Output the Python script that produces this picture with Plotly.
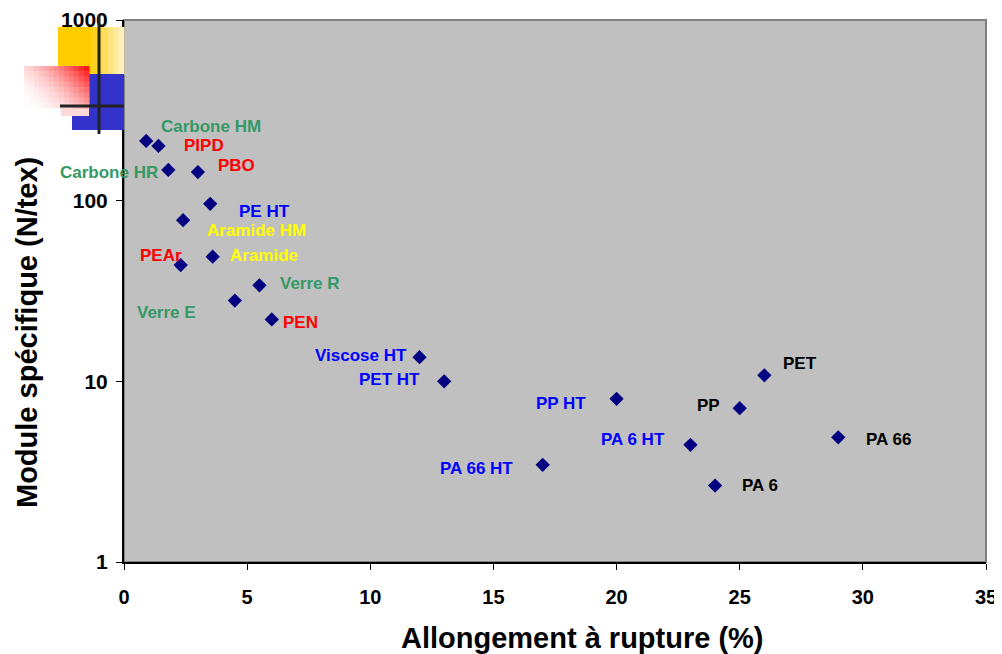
import math
import plotly.graph_objects as go

# ---- data ----
names = ["Carbone HM", "PIPD", "Carbone HR", "PBO", "PE HT", "Aramide HM", "Aramide",
         "PEAr", "Verre R", "Verre E", "PEN", "Viscose HT", "PET HT", "PP HT",
         "PA 66 HT", "PA 6 HT", "PET", "PP", "PA 66", "PA 6"]
allongement = [0.9, 1.4, 1.8, 3.0, 3.5, 2.4, 3.6, 2.3, 5.5, 4.5, 6.0, 12, 13, 20,
               17, 23, 26, 25, 29, 24]
module = [214, 201, 148, 144, 96, 78, 49, 44, 34, 28, 22, 13.6, 10, 8.0,
          3.45, 4.45, 10.8, 7.1, 4.9, 2.65]
label_colors = ["#339966", "#FF0000", "#339966", "#FF0000", "#0000FF", "#FFFF00", "#FFFF00",
                "#FF0000", "#339966", "#339966", "#FF0000", "#0000FF", "#0000FF", "#0000FF",
                "#0000FF", "#0000FF", "#000000", "#000000", "#000000", "#000000"]
# label offsets in pixels (style)
dx = [65, 46, -59, 39, 54, 73, 51, -20, 51, -68, 29, -59, -55, -56, -66, -57, 36, -31, 50, 45]
dy = [14, 0, -3, 7, -8, -10, 1, 10, 2, -12, -3, 2, 2, -5, -4, 5, 12, 3, -2, 0]

y_ticks = [1, 10, 100, 1000]
x_ticks = [0, 5, 10, 15, 20, 25, 30, 35]
x_title = "Allongement à rupture (%)"
y_title = "Module spécifique (N/tex)"

# page has an 8px body margin; figure sized so the screen layout matches
W, H = 994, 646
L, R, T, B = 116, 16, 12, 92

FONT = "Liberation Sans, Arial, sans-serif"

fig = go.Figure()
fig.add_trace(go.Scatter(
    x=allongement, y=module, mode="markers",
    marker=dict(symbol="diamond", size=11, color="#000080", line=dict(width=0)),
    hoverinfo="skip", showlegend=False, cliponaxis=False))

annotations = []
for n, xv, yv, c, ox, oy in zip(names, allongement, module, label_colors, dx, dy):
    annotations.append(dict(x=xv, y=math.log10(yv), xref="x", yref="y", text="<b>%s</b>" % n,
                            showarrow=False, xshift=ox, yshift=oy,
                            font=dict(family=FONT, size=17, color=c)))


# screen-pixel -> paper (screen plot area 124..986 x 20..562)
def px2paper(px, py):
    return (px - 124) / 862, (562 - py) / 542


# axis titles (offset as in the original)
tx, ty = px2paper(582, 638)
annotations.append(dict(x=tx, y=ty, xref="paper", yref="paper", text="<b>%s</b>" % x_title,
                        showarrow=False, xanchor="center", yanchor="middle",
                        font=dict(family=FONT, size=29, color="black")))
tx, ty = px2paper(27, 333)
annotations.append(dict(x=tx, y=ty, xref="paper", yref="paper", text="<b>%s</b>" % y_title,
                        showarrow=False, xanchor="center", yanchor="middle", textangle=-90,
                        font=dict(family=FONT, size=29, color="black")))

shapes = []


def rect(x0, y0, x1, y1, color, layer="above"):
    a, b = px2paper(x0, y1)
    c, d = px2paper(x1, y0)
    shapes.append(dict(type="rect", xref="paper", yref="paper", x0=a, y0=b, x1=c, y1=d,
                       fillcolor=color, line=dict(width=0), layer=layer))


def mix(c1, c2, t):
    return "rgb(%d,%d,%d)" % tuple(round(c1[i] + (c2[i] - c1[i]) * t) for i in range(3))


# plot frame (grey top/right)
shapes.append(dict(type="rect", xref="paper", yref="paper", x0=0, y0=0, x1=1, y1=1,
                   line=dict(color="#808080", width=2), layer="below"))

# decoration: yellow square with fade to white on right
steps = 12
for i in range(steps):
    x0 = 58 + i * (124 - 58) / steps
    x1 = 58 + (i + 1) * (124 - 58) / steps + 0.5
    t = max(0, (i - 5) / (steps - 5))
    rect(x0, 27, x1, 75, mix((255, 204, 0), (255, 245, 220), t))
# blue square
rect(72, 74, 124, 130, "#3333CC")
# pink strip below red
rect(61, 108, 89, 116, "#FFD8D8")
# red diagonal gradient rectangle
nx, ny = 13, 8
for i in range(nx):
    for j in range(ny):
        x0 = 24 + i * (89 - 24) / nx
        x1 = 24 + (i + 1) * (89 - 24) / nx + 0.5
        y0 = 66 + j * (108 - 66) / ny
        y1 = 66 + (j + 1) * (108 - 66) / ny + 0.5
        u = (i + 0.5) / nx
        v = 1 - (j + 0.5) / ny
        t = min(1, max(0, (u * 0.6 + v * 0.4) ** 2))
        rect(x0, y0, x1, y1, mix((255, 255, 255), (255, 0, 0), t))
# black cross
a, b = px2paper(99, 134)
c, d = px2paper(99, 15)
shapes.append(dict(type="line", xref="paper", yref="paper", x0=a, y0=b, x1=c, y1=d,
                   line=dict(color="#222222", width=3), layer="above"))
a, b = px2paper(60, 106)
c, d = px2paper(124, 106)
shapes.append(dict(type="line", xref="paper", yref="paper", x0=a, y0=b, x1=c, y1=d,
                   line=dict(color="#222222", width=3), layer="above"))

fig.update_layout(
    width=W, height=H,
    margin=dict(l=L, r=R, t=T, b=B, pad=0, autoexpand=False),
    paper_bgcolor="white", plot_bgcolor="#C0C0C0",
    font=dict(family=FONT, color="black"),
    shapes=shapes, annotations=annotations,
    xaxis=dict(range=[0, 35], tickvals=x_ticks, ticktext=["<b>%d</b>" % v for v in x_ticks],
               showgrid=False, zeroline=False, showline=True, linecolor="black", linewidth=2,
               ticks="outside", ticklen=6, tickcolor="black", tickwidth=1,
               ticklabelstandoff=10,
               tickfont=dict(family=FONT, size=20, color="black"), automargin=False),
    yaxis=dict(type="log", range=[0, 3], tickvals=y_ticks, ticktext=["<b>%d</b>" % v for v in y_ticks],
               showgrid=False, zeroline=False, showline=True, linecolor="black", linewidth=2,
               ticks="outside", ticklen=6, tickcolor="black", tickwidth=1,
               ticklabelstandoff=4,
               tickfont=dict(family=FONT, size=21, color="black"), automargin=False),
)

fig.write_html("out.html")
